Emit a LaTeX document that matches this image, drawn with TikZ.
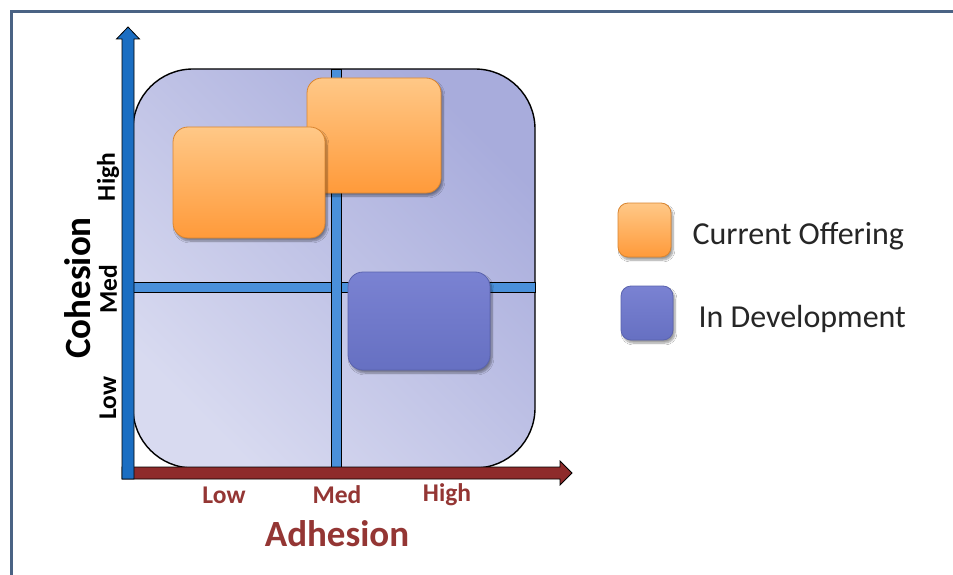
\documentclass[tikz,border=0pt]{standalone}
\usepackage{fontspec}
\setmainfont{Carlito}
\usetikzlibrary{shadows.blur}
\definecolor{framecol}{HTML}{4A6384}
\definecolor{axisblue}{HTML}{1B6EC2}
\definecolor{gridblue}{HTML}{4A90DA}
\definecolor{axisred}{HTML}{8E2B2B}
\definecolor{planelight}{HTML}{D8DAF0}
\definecolor{planedark}{HTML}{A8ACDC}
\definecolor{orangetop}{HTML}{FFC887}
\definecolor{orangebot}{HTML}{FF9A3A}
\definecolor{orangeedge}{HTML}{D98530}
\definecolor{bluetop}{HTML}{7A82D2}
\definecolor{bluebot}{HTML}{6670C2}
\definecolor{blueedge}{HTML}{5A63AE}
\definecolor{labelred}{HTML}{943634}
\tikzset{
  obox/.style={draw=orangeedge, line width=0.8pt, rounded corners=15pt,
    top color=orangetop, bottom color=orangebot,
    blur shadow={shadow xshift=2pt, shadow yshift=-3pt, shadow blur steps=8, shadow opacity=40}},
  bbox/.style={draw=blueedge, line width=0.8pt, rounded corners=15pt,
    top color=bluetop, bottom color=bluebot,
    blur shadow={shadow xshift=2pt, shadow yshift=-3pt, shadow blur steps=8, shadow opacity=40}},
  gridbar/.style={fill=gridblue, draw=black, line width=0.8pt},
  ticklab/.style={font=\bfseries\fontsize{25.5}{28}\selectfont},
  axistitle/.style={font=\bfseries\fontsize{37}{42}\selectfont},
  legtext/.style={font=\fontsize{32}{36}\selectfont, anchor=west, text=black!85}
}
\begin{document}
\begin{tikzpicture}[x=1pt,y=-1pt]
\useasboundingbox (0,0) rectangle (953,575);
\fill[white] (0,0) rectangle (953,575);
% frame
\draw[framecol, line width=3pt] (11.5,11.5) rectangle (965,590);
% plane
\node[draw=black, line width=1.4pt, rounded corners=60pt, minimum width=402pt, minimum height=399pt,
  shading=axis, top color=planedark, bottom color=planelight, shading angle=-45] (plane) at (334,268.5) {};
% grid lines
\node[gridbar, minimum width=402pt, minimum height=10pt, inner sep=0pt] (hgrid) at (334,287) {};
\node[gridbar, minimum width=10pt, minimum height=399pt, inner sep=0pt] (vgrid) at (336,268.5) {};
% boxes
\node[obox, minimum width=134pt, minimum height=115pt] (cur2) at (374,135.5) {};
\node[obox, minimum width=152pt, minimum height=111pt] (cur1) at (249,182.5) {};
\node[bbox, minimum width=142pt, minimum height=98pt] (dev1) at (419,321) {};
% horizontal axis
\coordinate (hstart) at (122,467);
\coordinate (htip) at (572,473);
\draw[fill=axisred, draw=black, line width=0.8pt]
  (hstart) -- (560,467) -- (560,461) -- (htip) -- (560,485) -- (560,479) -- (122,479) -- cycle;
% vertical axis
\coordinate (vstart) at (122,479);
\coordinate (vtip) at (128,27);
\draw[fill=axisblue, draw=black, line width=0.8pt]
  (vstart) -- (122,39) -- (116.5,39) -- (vtip) -- (139.5,39) -- (134,39) -- (134,479) -- cycle;
% y tick labels
\node[ticklab, rotate=90] (yhigh) at (108,177) {High};
\node[ticklab, rotate=90] (ymed) at (108,289) {Med};
\node[ticklab, rotate=90] (ylow) at (108,398) {Low};
\node[axistitle, rotate=90] (ytitle) at (78,288) {Cohesion};
% x tick labels
\node[ticklab, text=labelred] (xlow) at (224,495) {Low};
\node[ticklab, text=labelred] (xmed) at (337,495) {Med};
\node[ticklab, text=labelred] (xhigh) at (447,495) {High};
\node[axistitle, text=labelred] (xtitle) at (337,534) {Adhesion};
% legend
\node[obox, rounded corners=10pt, minimum width=53pt, minimum height=54pt] (legcur) at (644.5,230) {};
\node[bbox, rounded corners=10pt, minimum width=52pt, minimum height=54pt] (legdev) at (647,313) {};
\node[legtext] (legcurtxt) at (689,236) {Current Offering};
\node[legtext] (legdevtxt) at (695,319) {In Development};
\end{tikzpicture}
\end{document}
